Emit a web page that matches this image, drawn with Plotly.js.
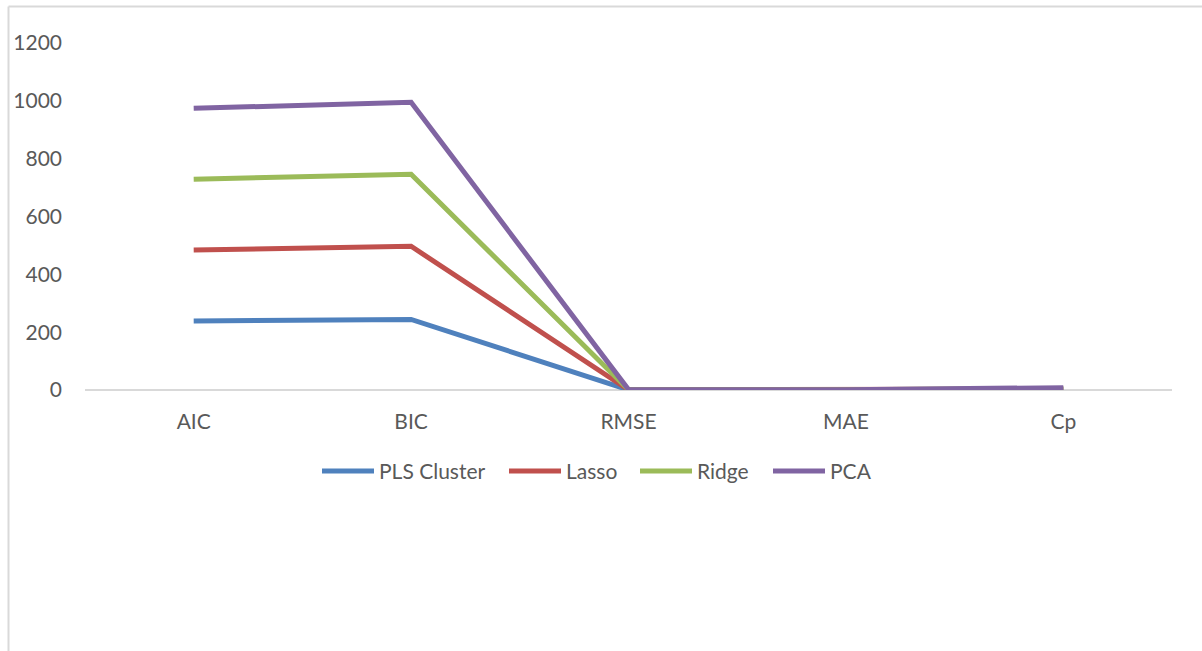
<!DOCTYPE html>
<html>
<head>
<meta charset="utf-8">
<script src="https://cdn.plot.ly/plotly-3.0.1.min.js"></script>
<style>
  html, body { margin: 0; padding: 0; background: #fff; }
  #chart { width: 1202px; height: 651px; }
</style>
</head>
<body>
<div id="chart"></div>
<script>
// Model comparison metrics
const metrics = ['AIC', 'BIC', 'RMSE', 'MAE', 'Cp'];
const seriesNames = ['PLS Cluster', 'Lasso', 'Ridge', 'PCA'];
const plsCluster = [239, 244, 0.5, 0.3, 1];
const lasso      = [484, 497, 0.8, 0.5, 3];
const ridge      = [729, 746, 1.0, 0.8, 5];
const pca        = [974, 995, 1.5, 1.0, 8];
const seriesValues = [plsCluster, lasso, ridge, pca];
const colors = ['#4F81BD', '#C0504D', '#9BBB59', '#8064A2'];
const yTicks = [0, 200, 400, 600, 800, 1000, 1200];

const W = 1202, H = 651;
const M = { l: 85, r: 30, t: 43, b: 261 };
const plotW = W - M.l - M.r, plotH = H - M.t - M.b;
const px = x => (x - M.l) / plotW;
const py = y => (H - M.b - y) / plotH;

const textColor = '#595959';
const fontFamily = 'Lato, "Open Sans", sans-serif';

const traces = seriesNames.map((name, i) => ({
  type: 'scatter',
  mode: 'lines',
  name: name,
  x: metrics,
  y: seriesValues[i],
  line: { color: colors[i], width: 5 },
  showlegend: false,
  hoverinfo: 'x+y+name'
}));

// Legend drawn as line samples with labels beneath the plot
const legendX = [320, 507, 638, 771];
const legendY = 471;
const shapes = [];
const annotations = [];
seriesNames.forEach((name, i) => {
  shapes.push({
    type: 'line', xref: 'paper', yref: 'paper',
    x0: px(legendX[i] + 2), x1: px(legendX[i] + 54),
    y0: py(legendY), y1: py(legendY),
    line: { color: colors[i], width: 5 }
  });
  annotations.push({
    xref: 'paper', yref: 'paper',
    x: px(legendX[i] + 57), y: py(legendY - 1),
    xanchor: 'left', yanchor: 'middle',
    text: name, showarrow: false,
    font: { family: fontFamily, size: 21, color: textColor }
  });
});

// Chart frame (top and left edges)
shapes.push({
  type: 'line', xref: 'paper', yref: 'paper',
  x0: px(8.5), x1: px(W + 5), y0: py(6.5), y1: py(6.5),
  line: { color: '#d9d9d9', width: 2 }
});
shapes.push({
  type: 'line', xref: 'paper', yref: 'paper',
  x0: px(8.5), x1: px(8.5), y0: py(6.5), y1: py(H + 5),
  line: { color: '#d9d9d9', width: 2 }
});

const layout = {
  width: W, height: H,
  margin: M,
  paper_bgcolor: '#ffffff',
  plot_bgcolor: '#ffffff',
  font: { family: fontFamily, size: 21, color: textColor },
  showlegend: false,
  xaxis: {
    type: 'category',
    range: [-0.5, metrics.length - 0.5],
    showgrid: false,
    zeroline: false,
    showline: false,
    ticks: '',
    ticklabelstandoff: 17,
    tickfont: { family: fontFamily, size: 21, color: textColor },
    fixedrange: true
  },
  yaxis: {
    range: [0, 1200],
    tickvals: yTicks,
    ticktext: yTicks.map(String),
    showgrid: false,
    zeroline: true,
    zerolinecolor: '#d9d9d9',
    zerolinewidth: 2,
    showline: false,
    ticks: '',
    ticklabelstandoff: 22,
    tickfont: { family: fontFamily, size: 21, color: textColor },
    fixedrange: true
  },
  shapes: shapes,
  annotations: annotations
};

Plotly.newPlot('chart', traces, layout, { displayModeBar: false, staticPlot: true });
</script>
</body>
</html>
